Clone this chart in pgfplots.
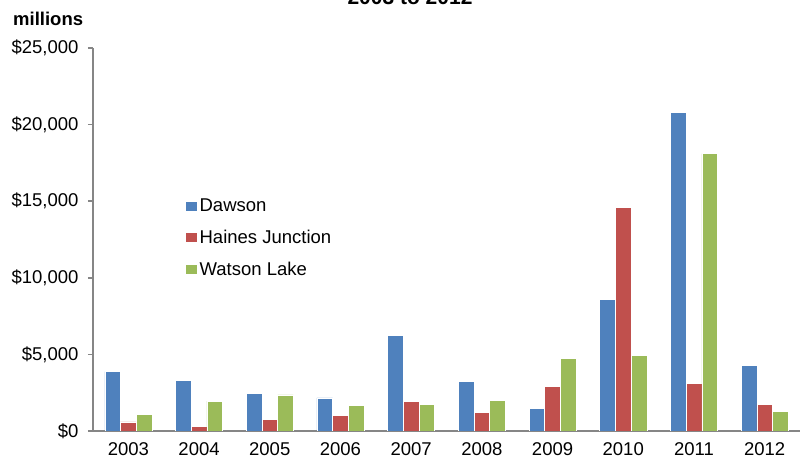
\documentclass[border=0pt]{standalone}
\usepackage{pgfplots}
\pgfplotsset{compat=1.18}
\usepackage{fontspec}
\setmainfont{Liberation Sans}
\definecolor{cB}{HTML}{4F81BD}
\definecolor{cR}{HTML}{C0504D}
\definecolor{cG}{HTML}{9BBB59}
\definecolor{axgray}{HTML}{868686}
\begin{document}
\begin{tikzpicture}
\useasboundingbox (0pt,0pt) rectangle (801pt,460pt);
\clip (0pt,0pt) rectangle (801pt,460pt);
\node[font=\bfseries\fontsize{21}{25}\selectfont, anchor=base] at (410pt,455pt) {2003 to 2012};
\node[font=\bfseries\fontsize{18.5}{22}\selectfont, anchor=base west, inner sep=0pt] at (13pt,434.5pt) {millions};
\begin{axis}[
  at={(93pt,29pt)}, anchor=south west,
  scale only axis, width=707pt, height=383pt,
  ybar=0pt, bar width=15.7pt,
  xmin=-0.5, xmax=9.5, ymin=0, ymax=25000,
  scaled y ticks=false,
  axis lines*=left,
  axis line style={axgray, line width=1.6pt},
  xtick={0,...,9},
  xticklabels={2003,2004,2005,2006,2007,2008,2009,2010,2011,2012},
  x tick label style={font=\fontsize{18.5}{22}\selectfont, yshift=-5pt, inner ysep=1pt},
  xtick style={draw=none},
  extra x ticks={-0.5,0.5,...,9.5},
  extra x tick labels={},
  extra x tick style={major tick length=6pt, tick align=outside, tick style={axgray, line width=1.6pt, draw=axgray}},
  ytick={0,5000,...,25000},
  yticklabels={{\$0},{\$5,000},{\$10,000},{\$15,000},{\$20,000},{\$25,000}},
  y tick label style={font=\fontsize{18.5}{22}\selectfont, xshift=-6pt},
  ytick style={axgray, line width=1.6pt},
  major tick length=5pt, tick align=outside,
  /pgf/number format/assume math mode=true,
  legend style={at={(rel axis cs:0.13,0.612)}, anchor=north west, draw=none, fill=none,
    font=\fontsize{18.5}{22}\selectfont, row sep=13pt, inner sep=0pt,
    legend cell align=left},
  legend image code/.code={\fill[#1] (0pt,-5pt) rectangle (12pt,5pt);},
]
\addplot[fill=cB, draw=white, line width=0.5pt] coordinates {
(0,3870) (1,3300) (2,2480) (3,2170) (4,6220) (5,3260) (6,1480) (7,8600) (8,20820) (9,4290)};
\addplot[fill=cR, draw=white, line width=0.5pt] coordinates {
(0,590) (1,300) (2,760) (3,1020) (4,1940) (5,1200) (6,2910) (7,14600) (8,3130) (9,1760)};
\addplot[fill=cG, draw=white, line width=0.5pt] coordinates {
(0,1100) (1,1950) (2,2350) (3,1680) (4,1720) (5,1980) (6,4740) (7,4960) (8,18100) (9,1300)};
\legend{Dawson, Haines Junction, Watson Lake}
\end{axis}
\end{tikzpicture}
\end{document}
